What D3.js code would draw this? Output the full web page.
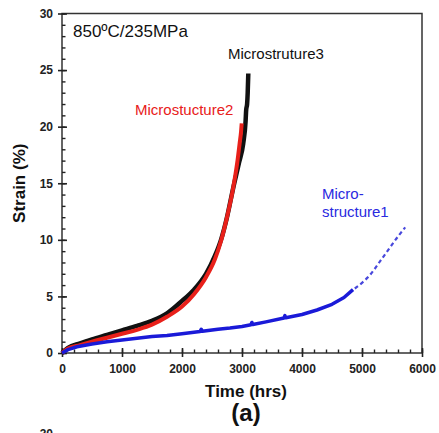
<!DOCTYPE html>
<html>
<head>
<meta charset="utf-8">
<script src="https://cdn.jsdelivr.net/npm/d3@7"></script>
<style>
  body { margin: 0; background: #fff; }
  svg { display: block; font-family: "Liberation Sans", Arial, sans-serif; }
</style>
</head>
<body>
<svg id="chart" width="439" height="433"></svg>
<script>
// data: [time (hrs), strain (%)]
const micro3 = [[0,0],[100,0.45],[300,0.85],[500,1.2],[750,1.6],[1000,2.0],[1250,2.4],[1500,2.85],
  [1750,3.5],[2000,4.6],[2200,5.6],[2400,7.0],[2550,8.6],[2650,10.0],[2750,12.0],[2850,14.5],
  [2950,16.8],[3020,18.5],[3060,20.5],[3070,21.5],[3085,22.0],[3095,23.0],[3105,24.7]];
const micro2 = [[0,0],[100,0.4],[300,0.7],[500,1.0],[750,1.35],[1000,1.7],[1250,2.05],[1500,2.5],
  [1750,3.2],[2000,4.1],[2200,5.2],[2400,6.7],[2550,8.3],[2650,9.9],[2750,12.0],[2850,14.5],
  [2920,16.8],[2960,18.5],[2985,19.6],[2995,20.3]];
const micro1 = [[0,0],[100,0.3],[250,0.55],[500,0.8],[750,1.0],[1000,1.15],[1250,1.3],[1500,1.45],
  [1750,1.55],[2000,1.7],[2300,1.9],[2320,2.1],[2340,1.92],[2600,2.1],[2800,2.2],[3000,2.35],
  [3150,2.5],[3165,2.7],[3180,2.52],[3400,2.75],[3700,3.1],[3715,3.3],[3730,3.12],[4000,3.4],
  [4250,3.8],[4500,4.3],[4700,4.9],[4850,5.6]];
const micro1Extrap = [[4880,5.7],[5000,6.2],[5150,7.0],[5300,8.1],[5450,9.2],[5600,10.3],[5720,11.1]];

const xTicks = [0, 1000, 2000, 3000, 4000, 5000, 6000];
const yTicks = [0, 5, 10, 15, 20, 25, 30];

const svg = d3.select("#chart");
const mLeft = 62, mRight = 422, mTop = 13.5, mBottom = 353;

const x = d3.scaleLinear().domain([0, 6000]).range([mLeft, mRight]);
const y = d3.scaleLinear().domain([0, 30]).range([mBottom, mTop]);

// frame
svg.append("rect")
  .attr("x", mLeft).attr("y", mTop)
  .attr("width", mRight - mLeft).attr("height", mBottom - mTop)
  .attr("fill", "none").attr("stroke", "#333").attr("stroke-width", 1.5);

// minor ticks (inside)
svg.append("g")
  .attr("transform", "translate(0," + mBottom + ")")
  .call(d3.axisBottom(x).tickValues(d3.range(0, 6001, 200)).tickSize(-3.5).tickFormat(""))
  .call(g => g.select(".domain").remove())
  .selectAll("line").attr("stroke", "#222").attr("stroke-width", 1.4);
svg.append("g")
  .attr("transform", "translate(" + mLeft + ",0)")
  .call(d3.axisLeft(y).tickValues(d3.range(0, 31, 1)).tickSize(-3.5).tickFormat(""))
  .call(g => g.select(".domain").remove())
  .selectAll("line").attr("stroke", "#222").attr("stroke-width", 1.4);

// major ticks crossing the axis
const xAxis = svg.append("g")
  .attr("transform", "translate(0," + mBottom + ")")
  .call(d3.axisBottom(x).tickValues(xTicks).tickSize(4).tickPadding(7).tickFormat(d3.format("d")));
xAxis.select(".domain").remove();
xAxis.selectAll("line").attr("y1", -5).attr("stroke", "#222").attr("stroke-width", 1.6);
xAxis.selectAll("text").attr("font-size", 12).attr("font-weight", "bold").attr("fill", "#222");

const yAxis = svg.append("g")
  .attr("transform", "translate(" + mLeft + ",0)")
  .call(d3.axisLeft(y).tickValues(yTicks).tickSize(4).tickPadding(5));
yAxis.select(".domain").remove();
yAxis.selectAll("line").attr("x1", 5).attr("stroke", "#222").attr("stroke-width", 1.6);
yAxis.selectAll("text").attr("font-size", 12).attr("font-weight", "bold").attr("fill", "#222");

const line = d3.line().x(d => x(d[0])).y(d => y(d[1])).curve(d3.curveMonotoneX);

svg.append("path").datum(micro3).attr("d", line)
  .attr("fill", "none").attr("stroke", "#111").attr("stroke-width", 4.5);
svg.append("path").datum(micro2).attr("d", line)
  .attr("fill", "none").attr("stroke", "#e8201a").attr("stroke-width", 4);
svg.append("path").datum(micro1).attr("d", d3.line().x(d => x(d[0])).y(d => y(d[1])))
  .attr("fill", "none").attr("stroke", "#1a1ad8").attr("stroke-width", 3.5)
  .attr("stroke-linejoin", "round");
svg.append("path").datum(micro1Extrap).attr("d", line)
  .attr("fill", "none").attr("stroke", "#4848dc").attr("stroke-width", 2.2)
  .attr("stroke-dasharray", "4,3");

// annotations
svg.append("text").attr("x", 73).attr("y", 37).attr("font-size", 17).attr("fill", "#111")
  .text("850ºC/235MPa");
svg.append("text").attr("x", 228).attr("y", 59).attr("font-size", 15).attr("fill", "#111")
  .text("Microstruture3");
svg.append("text").attr("x", 135).attr("y", 115).attr("font-size", 15).attr("fill", "#e8201a")
  .text("Microstucture2");
svg.append("text").attr("x", 322).attr("y", 199).attr("font-size", 15).attr("fill", "#2a2ae0")
  .text("Micro-");
svg.append("text").attr("x", 322).attr("y", 216.5).attr("font-size", 15).attr("fill", "#2a2ae0")
  .text("structure1");

// axis titles
svg.append("text")
  .attr("transform", "translate(25," + ((mTop + mBottom) / 2) + ") rotate(-90)")
  .attr("text-anchor", "middle").attr("font-size", 17).attr("font-weight", "bold").attr("fill", "#111")
  .text("Strain (%)");
svg.append("text").attr("x", 246).attr("y", 397).attr("text-anchor", "middle")
  .attr("font-size", 17).attr("font-weight", "bold").attr("fill", "#111")
  .text("Time (hrs)");
svg.append("text").attr("x", 246).attr("y", 421).attr("text-anchor", "middle")
  .attr("font-size", 24).attr("font-weight", "bold").attr("fill", "#111")
  .text("(a)");

// top of the next panel's label, cut off by the picture edge
svg.append("text").attr("x", 53).attr("y", 438).attr("text-anchor", "end")
  .attr("font-size", 12).attr("font-weight", "bold").attr("fill", "#222")
  .text("30");
</script>
</body>
</html>
